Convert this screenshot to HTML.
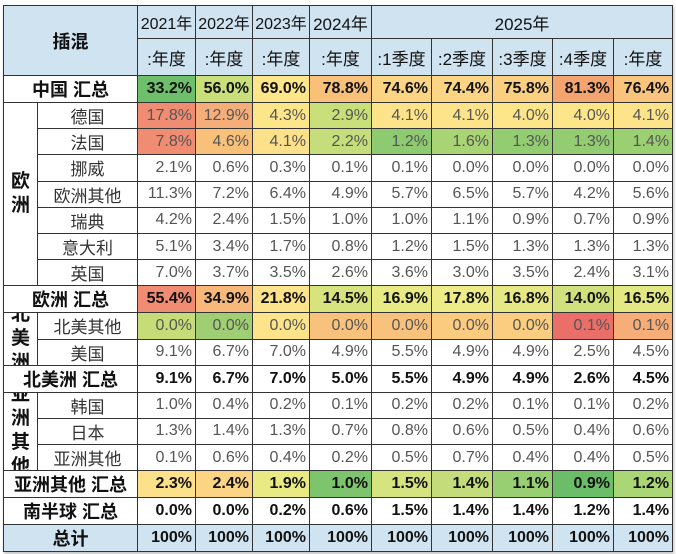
<!DOCTYPE html>
<html><head><meta charset="utf-8"><style>
body{margin:0;width:676px;height:554px;background:#fff;overflow:hidden;font-family:"Liberation Sans","Noto Sans CJK SC",sans-serif}
table{position:absolute;left:3px;top:5px;border-collapse:collapse;table-layout:fixed;width:669px;box-shadow:1px 2px 3px rgba(0,0,0,.25)}
td{border:1px solid #333;padding:0 3px 0 0;height:26.2px;box-sizing:border-box;font-size:16px;text-align:right;color:#555;white-space:nowrap;overflow:hidden}
td.n{text-align:center;padding:0;font-size:17px;color:#333}
tr.b td{font-weight:bold;color:#111}
td.h{background:#cfe3f1;text-align:center;padding:0;color:#111;font-size:16px}
td.g{padding:0;position:relative;text-align:center;white-space:normal}
.g div{position:absolute;left:0;right:0;top:0;bottom:0;display:flex;align-items:center;justify-content:center;overflow:hidden}
.g span{display:block;width:20px;white-space:normal;word-break:break-all;font-size:19px;font-weight:bold;line-height:24px;color:#111}
</style></head><body>
<table>
<colgroup><col style="width:34px"><col style="width:100px"><col style="width:58px"><col style="width:57px"><col style="width:57px"><col style="width:62px"><col style="width:60px"><col style="width:61px"><col style="width:60px"><col style="width:61px"><col style="width:59px"></colgroup>
<tr style="height:33px"><td class="h" colspan="2" rowspan="2" style="font-size:18px;font-weight:bold;height:33px">插混</td><td class="h" style="height:33px">2021年</td><td class="h">2022年</td><td class="h">2023年</td><td class="h" style="font-size:17px">2024年</td><td class="h" colspan="5" style="font-size:17px">2025年</td></tr>
<tr style="height:37px"><td class="h" style="font-size:17px;height:37px">:年度</td><td class="h" style="font-size:17px">:年度</td><td class="h" style="font-size:17px">:年度</td><td class="h" style="font-size:17px">:年度</td><td class="h" style="font-size:17px">:1季度</td><td class="h" style="font-size:17px">:2季度</td><td class="h" style="font-size:17px">:3季度</td><td class="h" style="font-size:17px">:4季度</td><td class="h" style="font-size:17px">:年度</td></tr>
<tr class="b"><td class="n" colspan="2" style="font-weight:bold;font-size:18px">中国 汇总</td><td style="background:#6ebf6b">33.2%</td><td style="background:#c9df7a">56.0%</td><td style="background:#fde68a">69.0%</td><td style="background:#f9c07a">78.8%</td><td style="background:#fbd584">74.6%</td><td style="background:#fbd584">74.4%</td><td style="background:#fbcf80">75.8%</td><td style="background:#f4a46f">81.3%</td><td style="background:#f9c47c">76.4%</td></tr>
<tr><td class="g" rowspan="7"><div><span>欧洲</span></div></td><td class="n">德国</td><td style="background:#ef8c72">17.8%</td><td style="background:#f5ae79">12.9%</td><td style="background:#fde68a">4.3%</td><td style="background:#c9df7a">2.9%</td><td style="background:#fde48a">4.1%</td><td style="background:#fde48a">4.1%</td><td style="background:#fde68a">4.0%</td><td style="background:#fde68a">4.0%</td><td style="background:#fde48a">4.1%</td></tr>
<tr><td class="n">法国</td><td style="background:#ef8c72">7.8%</td><td style="background:#f9c07a">4.6%</td><td style="background:#fde08a">4.1%</td><td style="background:#c5dd7a">2.2%</td><td style="background:#8ecb70">1.2%</td><td style="background:#a8d474">1.6%</td><td style="background:#94cd71">1.3%</td><td style="background:#94cd71">1.3%</td><td style="background:#9acf72">1.4%</td></tr>
<tr><td class="n">挪威</td><td>2.1%</td><td>0.6%</td><td>0.3%</td><td>0.1%</td><td>0.1%</td><td>0.0%</td><td>0.0%</td><td>0.0%</td><td>0.0%</td></tr>
<tr><td class="n">欧洲其他</td><td>11.3%</td><td>7.2%</td><td>6.4%</td><td>4.9%</td><td>5.7%</td><td>6.5%</td><td>5.7%</td><td>4.2%</td><td>5.6%</td></tr>
<tr><td class="n">瑞典</td><td>4.2%</td><td>2.4%</td><td>1.5%</td><td>1.0%</td><td>1.0%</td><td>1.1%</td><td>0.9%</td><td>0.7%</td><td>0.9%</td></tr>
<tr><td class="n">意大利</td><td>5.1%</td><td>3.4%</td><td>1.7%</td><td>0.8%</td><td>1.2%</td><td>1.5%</td><td>1.3%</td><td>1.3%</td><td>1.3%</td></tr>
<tr><td class="n">英国</td><td>7.0%</td><td>3.7%</td><td>3.5%</td><td>2.6%</td><td>3.6%</td><td>3.0%</td><td>3.5%</td><td>2.4%</td><td>3.1%</td></tr>
<tr class="b"><td class="n" colspan="2" style="font-weight:bold;font-size:18px">欧洲 汇总</td><td style="background:#ef8c72">55.4%</td><td style="background:#f7b87a">34.9%</td><td style="background:#fde48a">21.8%</td><td style="background:#d7e47e">14.5%</td><td style="background:#e8ea84">16.9%</td><td style="background:#eeec86">17.8%</td><td style="background:#e6e983">16.8%</td><td style="background:#cfe07c">14.0%</td><td style="background:#e3e882">16.5%</td></tr>
<tr><td class="g" rowspan="2"><div><span>北美洲</span></div></td><td class="n">北美其他</td><td style="background:#c6dc78">0.0%</td><td style="background:#9fcf72">0.0%</td><td style="background:#fde48a">0.0%</td><td style="background:#f9c27c">0.0%</td><td style="background:#f9c27c">0.0%</td><td style="background:#fbcb80">0.0%</td><td style="background:#fbcd80">0.0%</td><td style="background:#ea6f68">0.1%</td><td style="background:#f6ad78">0.1%</td></tr>
<tr><td class="n">美国</td><td>9.1%</td><td>6.7%</td><td>7.0%</td><td>4.9%</td><td>5.5%</td><td>4.9%</td><td>4.9%</td><td>2.5%</td><td>4.5%</td></tr>
<tr class="b"><td class="n" colspan="2" style="font-weight:bold;font-size:18px">北美洲 汇总</td><td>9.1%</td><td>6.7%</td><td>7.0%</td><td>5.0%</td><td>5.5%</td><td>4.9%</td><td>4.9%</td><td>2.6%</td><td>4.5%</td></tr>
<tr><td class="g" rowspan="3"><div><span>亚洲其他</span></div></td><td class="n">韩国</td><td>1.0%</td><td>0.4%</td><td>0.2%</td><td>0.1%</td><td>0.2%</td><td>0.2%</td><td>0.1%</td><td>0.1%</td><td>0.2%</td></tr>
<tr><td class="n">日本</td><td>1.3%</td><td>1.4%</td><td>1.3%</td><td>0.7%</td><td>0.8%</td><td>0.6%</td><td>0.5%</td><td>0.4%</td><td>0.6%</td></tr>
<tr><td class="n">亚洲其他</td><td>0.1%</td><td>0.6%</td><td>0.4%</td><td>0.2%</td><td>0.5%</td><td>0.7%</td><td>0.4%</td><td>0.4%</td><td>0.5%</td></tr>
<tr class="b"><td class="n" colspan="2" style="font-weight:bold;font-size:18px">亚洲其他 汇总</td><td style="background:#fde08a">2.3%</td><td style="background:#fbd584">2.4%</td><td style="background:#eaea84">1.9%</td><td style="background:#7dc46c">1.0%</td><td style="background:#d5e47e">1.5%</td><td style="background:#c4dc7a">1.4%</td><td style="background:#97cf72">1.1%</td><td style="background:#6cbd68">0.9%</td><td style="background:#abd676">1.2%</td></tr>
<tr class="b"><td class="n" colspan="2" style="font-weight:bold;font-size:18px">南半球 汇总</td><td>0.0%</td><td>0.0%</td><td>0.2%</td><td>0.6%</td><td>1.5%</td><td>1.4%</td><td>1.4%</td><td>1.2%</td><td>1.4%</td></tr>
<tr class="b"><td class="n" colspan="2" style="font-weight:bold;font-size:18px;background:#cfe3f1">总计</td><td style="background:#cfe3f1">100%</td><td style="background:#cfe3f1">100%</td><td style="background:#cfe3f1">100%</td><td style="background:#cfe3f1">100%</td><td style="background:#cfe3f1">100%</td><td style="background:#cfe3f1">100%</td><td style="background:#cfe3f1">100%</td><td style="background:#cfe3f1">100%</td><td style="background:#cfe3f1">100%</td></tr>
</table>
</body></html>
